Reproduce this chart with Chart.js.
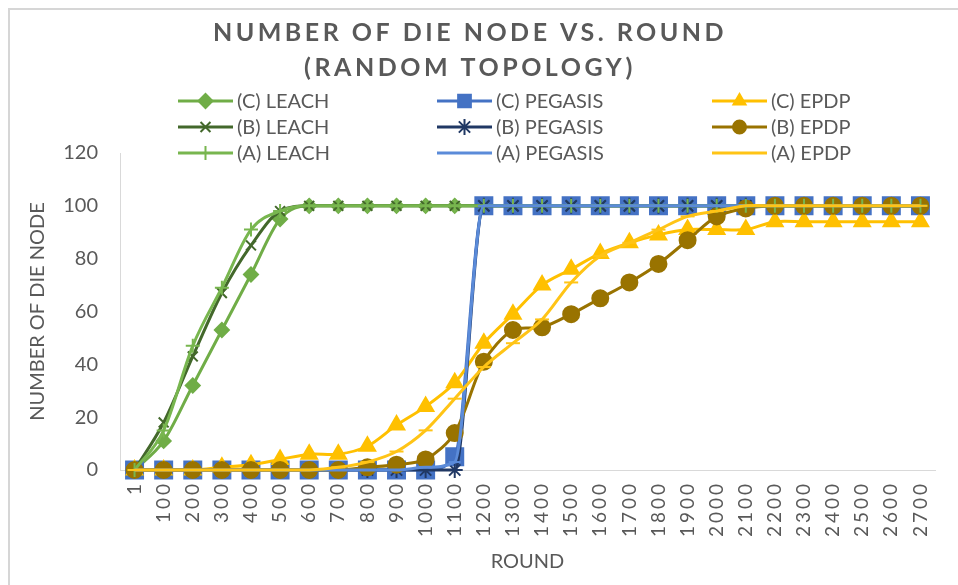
<!DOCTYPE html>
<html>
<head>
<meta charset="utf-8">
<script src="https://cdn.jsdelivr.net/npm/chart.js@4"></script>
<style>
  html, body { margin: 0; padding: 0; background: #fff; }
  #wrap { width: 958px; height: 585px; position: relative; }
</style>
</head>
<body>
<div id="wrap"><canvas id="chart" width="958" height="585"></canvas></div>
<script>
  // rounds on the x axis
  const rounds = ['1', '100', '200', '300', '400', '500', '600', '700', '800', '900', '1000',
    '1100', '1200', '1300', '1400', '1500', '1600', '1700', '1800', '1900', '2000',
    '2100', '2200', '2300', '2400', '2500', '2600', '2700'];

  // number of dead nodes per round
  const leachC = [0, 11, 32, 53, 74, 95, 100, 100, 100, 100, 100, 100, 100, 100, 100, 100, 100, 100, 100, 100, 100, 100, 100, 100, 100, 100, 100, 100];
  const leachB = [0, 18, 43, 67, 85, 98, 100, 100, 100, 100, 100, 100, 100, 100, 100, 100, 100, 100, 100, 100, 100, 100, 100, 100, 100, 100, 100, 100];
  const leachA = [0, 15, 47, 69, 91, 98, 100, 100, 100, 100, 100, 100, 100, 100, 100, 100, 100, 100, 100, 100, 100, 100, 100, 100, 100, 100, 100, 100];

  const pegasisC = [0, 0, 0, 0, 0, 0, 0, 0, 0, 0, 0, 5, 100, 100, 100, 100, 100, 100, 100, 100, 100, 100, 100, 100, 100, 100, 100, 100];
  const pegasisB = [0, 0, 0, 0, 0, 0, 0, 0, 0, 0, 0, 0, 100, 100, 100, 100, 100, 100, 100, 100, 100, 100, 100, 100, 100, 100, 100, 100];
  const pegasisA = [0, 0, 0, 0, 0, 0, 0, 0, 0, 0, 1, 3, 100, 100, 100, 100, 100, 100, 100, 100, 100, 100, 100, 100, 100, 100, 100, 100];

  const epdpC = [0, 0, 0, 1, 2, 4, 6, 6, 9, 17, 24, 33, 48, 59, 70, 76, 82, 86, 89, 91, 91, 91, 94, 94, 94, 94, 94, 94];
  const epdpB = [0, 0, 0, 0, 0, 0, 0, 0, 1, 2, 4, 14, 41, 53, 54, 59, 65, 71, 78, 87, 96, 99, 100, 100, 100, 100, 100, 100];
  const epdpA = [0, 0, 0, 0, 0, 0, 0, 1, 3, 7, 15, 27, 39, 48, 57, 71, 81, 86, 91, 96, 98, 100, 100, 100, 100, 100, 100, 100];

  const titleLines = ['NUMBER OF DIE NODE VS. ROUND', '(RANDOM TOPOLOGY)'];

  const grey = '#595959';
  Chart.defaults.font.family = 'Lato, sans-serif';
  Chart.defaults.color = grey;

  function series(label, data, color, style, radius, legendRadius, smooth) {
    const ds = {
      label: label,
      data: data,
      borderColor: color,
      backgroundColor: color,
      borderWidth: 3,
      pointStyle: style,
      pointRadius: radius,
      pointHoverRadius: radius,
      pointBorderWidth: 2,
      legendRadius: legendRadius,
      clip: false,
      fill: false
    };
    if (smooth) ds.tension = 0.3;
    else ds.cubicInterpolationMode = 'monotone';
    return ds;
  }

  // legend order: rows of C, B, A
  const datasets = [
    series('(C) LEACH', leachC, '#70AD47', 'rectRot', 7, 7, false),
    series('(C) PEGASIS', pegasisC, '#4472C4', 'rect', 12, 9, false),
    series('(C) EPDP', epdpC, '#FFC000', 'triangle', 9, 7, true),
    series('(B) LEACH', leachB, '#43682B', 'crossRot', 7, 7, false),
    series('(B) PEGASIS', pegasisB, '#203864', 'star', 8, 8, false),
    series('(B) EPDP', epdpB, '#997300', 'circle', 8, 6.5, true),
    series('(A) LEACH', leachA, '#78B64F', 'cross', 7, 7, false),
    series('(A) PEGASIS', pegasisA, '#5B8BD9', 'line', 6, 6, false),
    series('(A) EPDP', epdpA, '#FFC416', 'line', 7, 6, true)
  ];
  // later series are painted on top, as in the original
  datasets.forEach((d, i) => { d.order = datasets.length - i; });

  const legendX = [178, 437, 712];
  const legendY = [101, 127, 153];

  function marker(ctx, ds, x, y) {
    ctx.fillStyle = ds.backgroundColor;
    ctx.strokeStyle = ds.borderColor;
    ctx.lineWidth = ds.pointBorderWidth;
    Chart.helpers.drawPoint(ctx, {
      pointStyle: ds.pointStyle, rotation: 0,
      radius: ds.legendRadius, borderWidth: ds.pointBorderWidth
    }, x, y);
  }

  const decor = {
    id: 'decor',
    beforeDraw(chart) {
      // spaced-out digits on the round axis
      const sx = chart.scales.x;
      if (!sx._spaced) {
        const orig = sx.drawLabels;
        sx.drawLabels = function (area) {
          this.ctx.save();
          this.ctx.letterSpacing = '3px';
          orig.call(this, area);
          this.ctx.restore();
        };
        sx._spaced = true;
      }
    },
    afterDraw(chart) {
      const ctx = chart.ctx;
      ctx.save();
      // frame
      ctx.strokeStyle = '#d6d6d6';
      ctx.lineWidth = 2;
      ctx.beginPath();
      ctx.moveTo(9, 585); ctx.lineTo(9, 9); ctx.lineTo(958, 9);
      ctx.stroke();

      // title
      ctx.fillStyle = grey;
      ctx.font = 'bold 25px Lato, sans-serif';
      ctx.textAlign = 'center';
      ctx.textBaseline = 'middle';
      ctx.letterSpacing = '3.5px';
      titleLines.forEach((t, i) => ctx.fillText(t, 470, 33 + i * 35));
      ctx.letterSpacing = '0px';

      // legend in three columns
      ctx.font = '20px Lato, sans-serif';
      ctx.textAlign = 'left';
      chart.data.datasets.forEach((ds, i) => {
        const x = legendX[i % 3];
        const y = legendY[Math.floor(i / 3)];
        ctx.strokeStyle = ds.borderColor;
        ctx.lineWidth = 3;
        ctx.beginPath();
        ctx.moveTo(x, y); ctx.lineTo(x + 55, y);
        ctx.stroke();
        marker(ctx, ds, x + 27.5, y);
        ctx.fillStyle = grey;
        ctx.fillText(ds.label, x + 59, y + 1);
      });
      ctx.restore();
    }
  };

  new Chart(document.getElementById('chart'), {
    type: 'line',
    data: { labels: rounds, datasets: datasets },
    plugins: [decor],
    options: {
      responsive: false,
      animation: false,
      layout: { padding: { top: 153, left: 10, right: 23, bottom: 0 } },
      plugins: {
        legend: { display: false },
        title: { display: false },
        tooltip: { enabled: false }
      },
      scales: {
        x: {
          offset: true,
          grid: { display: false, drawTicks: false },
          border: { display: true, color: '#d9d9d9', width: 1 },
          ticks: { autoSkip: false, minRotation: 90, maxRotation: 90, padding: 11, font: { size: 19 }, color: grey },
          title: { display: true, text: 'ROUND', font: { size: 20 }, color: grey, padding: { top: 0, bottom: 11 } },
          afterFit: s => { s.height = 115; }
        },
        y: {
          min: 0,
          max: 120,
          grid: { display: false, drawTicks: false },
          border: { display: true, color: '#d9d9d9', width: 1 },
          ticks: { stepSize: 20, padding: 22, font: { size: 20 }, color: grey },
          title: { display: true, text: 'NUMBER OF DIE NODE', font: { size: 20 }, color: grey, padding: { top: 16, bottom: 0 } },
          afterFit: s => { s.width = 110; }
        }
      }
    }
  });
</script>
</body>
</html>
